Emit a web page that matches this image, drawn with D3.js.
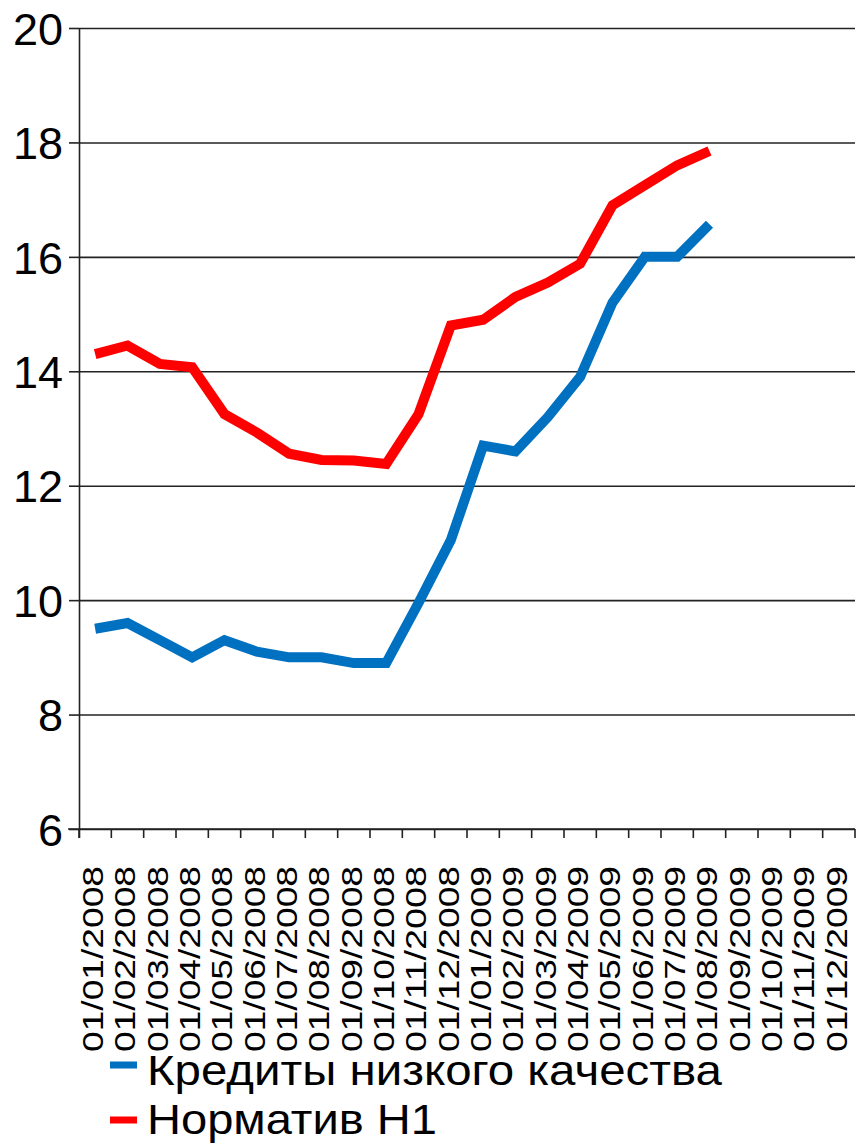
<!DOCTYPE html>
<html>
<head>
<meta charset="utf-8">
<script src="https://cdn.jsdelivr.net/npm/d3@7"></script>
<style>
  body { margin: 0; background: #fff; }
  text { font-family: "Liberation Sans", Arial, sans-serif; fill: #000; }
</style>
</head>
<body>
<script>
// months on the x axis
var months = ["01/01/2008","01/02/2008","01/03/2008","01/04/2008","01/05/2008","01/06/2008",
              "01/07/2008","01/08/2008","01/09/2008","01/10/2008","01/11/2008","01/12/2008",
              "01/01/2009","01/02/2009","01/03/2009","01/04/2009","01/05/2009","01/06/2009",
              "01/07/2009","01/08/2009","01/09/2009","01/10/2009","01/11/2009","01/12/2009"];

// low quality loans, %
var badLoans = [9.5, 9.6, 9.3, 9.0, 9.3, 9.1, 9.0, 9.0, 8.9, 8.9, 9.95, 11.05,
                12.7, 12.6, 13.2, 13.9, 15.2, 16.0, 16.0, 16.57];
// capital adequacy ratio H1, %
var ratioH1 = [14.3, 14.45, 14.13, 14.07, 13.25, 12.93, 12.56, 12.45, 12.44, 12.38, 13.25, 14.8,
               14.9, 15.3, 15.55, 15.88, 16.9, 17.25, 17.6, 17.85];

var yTicks = [6, 8, 10, 12, 14, 16, 18, 20];
var seriesNames = ["Кредиты низкого качества", "Норматив Н1"];
var colors = ["#0070c0", "#ff0000"];

var margin = {top: 28, right: 3, bottom: 317, left: 79},
    width = 858 - margin.left - margin.right,
    height = 1146 - margin.top - margin.bottom;

var svg = d3.select("body").append("svg")
    .attr("width", 858)
    .attr("height", 1146)
  .append("g")
    .attr("transform", "translate(" + margin.left + "," + margin.top + ")");

var x = d3.scaleBand().domain(months).range([0, width]).padding(0);
var y = d3.scaleLinear().domain([6, 20]).range([height, 0]);

// gridlines
svg.append("g")
    .attr("class", "grid")
    .call(d3.axisLeft(y).tickValues(yTicks).tickSize(-width).tickFormat(""))
    .call(function(g) { g.select(".domain").remove(); })
    .selectAll("line")
    .attr("stroke", "#222")
    .attr("stroke-width", 1.6);

// y axis
var yAxis = svg.append("g")
    .call(d3.axisLeft(y).tickValues(yTicks).tickSize(10).tickSizeOuter(0).tickPadding(6));
yAxis.select(".domain").attr("stroke", "#222").attr("stroke-width", 1.6)
    .attr("d", "M0.5," + y(20) + "V" + (height + 9));
yAxis.selectAll(".tick line").attr("stroke", "#222").attr("stroke-width", 1.6);
yAxis.selectAll(".tick text")
    .attr("x", -16)
    .attr("dy", "0.36em")
    .style("font-size", "45px")
    .style("font-family", "'Liberation Sans', Arial, sans-serif");

// x axis: ticks on band edges
var xAxis = svg.append("g").attr("transform", "translate(0," + height + ")");
xAxis.append("line")
    .attr("x1", -11).attr("x2", width)
    .attr("stroke", "#222").attr("stroke-width", 1.6);
xAxis.selectAll(".xt")
    .data(months.concat(["end"]))
    .enter().append("line")
    .attr("class", "xt")
    .attr("x1", function(d) { return d === "end" ? x.range()[1] : x(d); })
    .attr("x2", function(d) { return d === "end" ? x.range()[1] : x(d); })
    .attr("y1", 0).attr("y2", 9)
    .attr("stroke", "#222").attr("stroke-width", 1.6);

xAxis.selectAll(".xl")
    .data(months)
    .enter().append("text")
    .attr("class", "xl")
    .attr("transform", function(d) {
      return "translate(" + (x(d) + x.bandwidth() / 2 - 3) + ",37) rotate(-90)";
    })
    .attr("dy", "0.36em")
    .attr("text-anchor", "end")
    .attr("textLength", 186)
    .attr("lengthAdjust", "spacingAndGlyphs")
    .style("font-size", "30px")
    .text(function(d) { return d; });

// lines
var line = d3.line()
    .x(function(d, i) { return x(months[i]) + x.bandwidth() / 2; })
    .y(function(d) { return y(d); });

[badLoans, ratioH1].forEach(function(s, i) {
  svg.append("path")
      .datum(s)
      .attr("fill", "none")
      .attr("stroke", colors[i])
      .attr("stroke-width", 10)
      .attr("stroke-linejoin", "miter")
      .attr("d", line);
});

// legend
var legend = d3.select("svg").append("g");
var legendY = [1065, 1120];
var legendBase = [1085, 1134];
var legendLen = [575, 290];
seriesNames.forEach(function(name, i) {
  legend.append("rect")
      .attr("x", 110).attr("y", legendY[i] - 3.5)
      .attr("width", 27).attr("height", 7)
      .attr("fill", colors[i]);
  legend.append("text")
      .attr("x", 147).attr("y", legendBase[i])
      .attr("textLength", legendLen[i])
      .attr("lengthAdjust", "spacingAndGlyphs")
      .style("font-size", "43px")
      .text(name);
});
</script>
</body>
</html>
